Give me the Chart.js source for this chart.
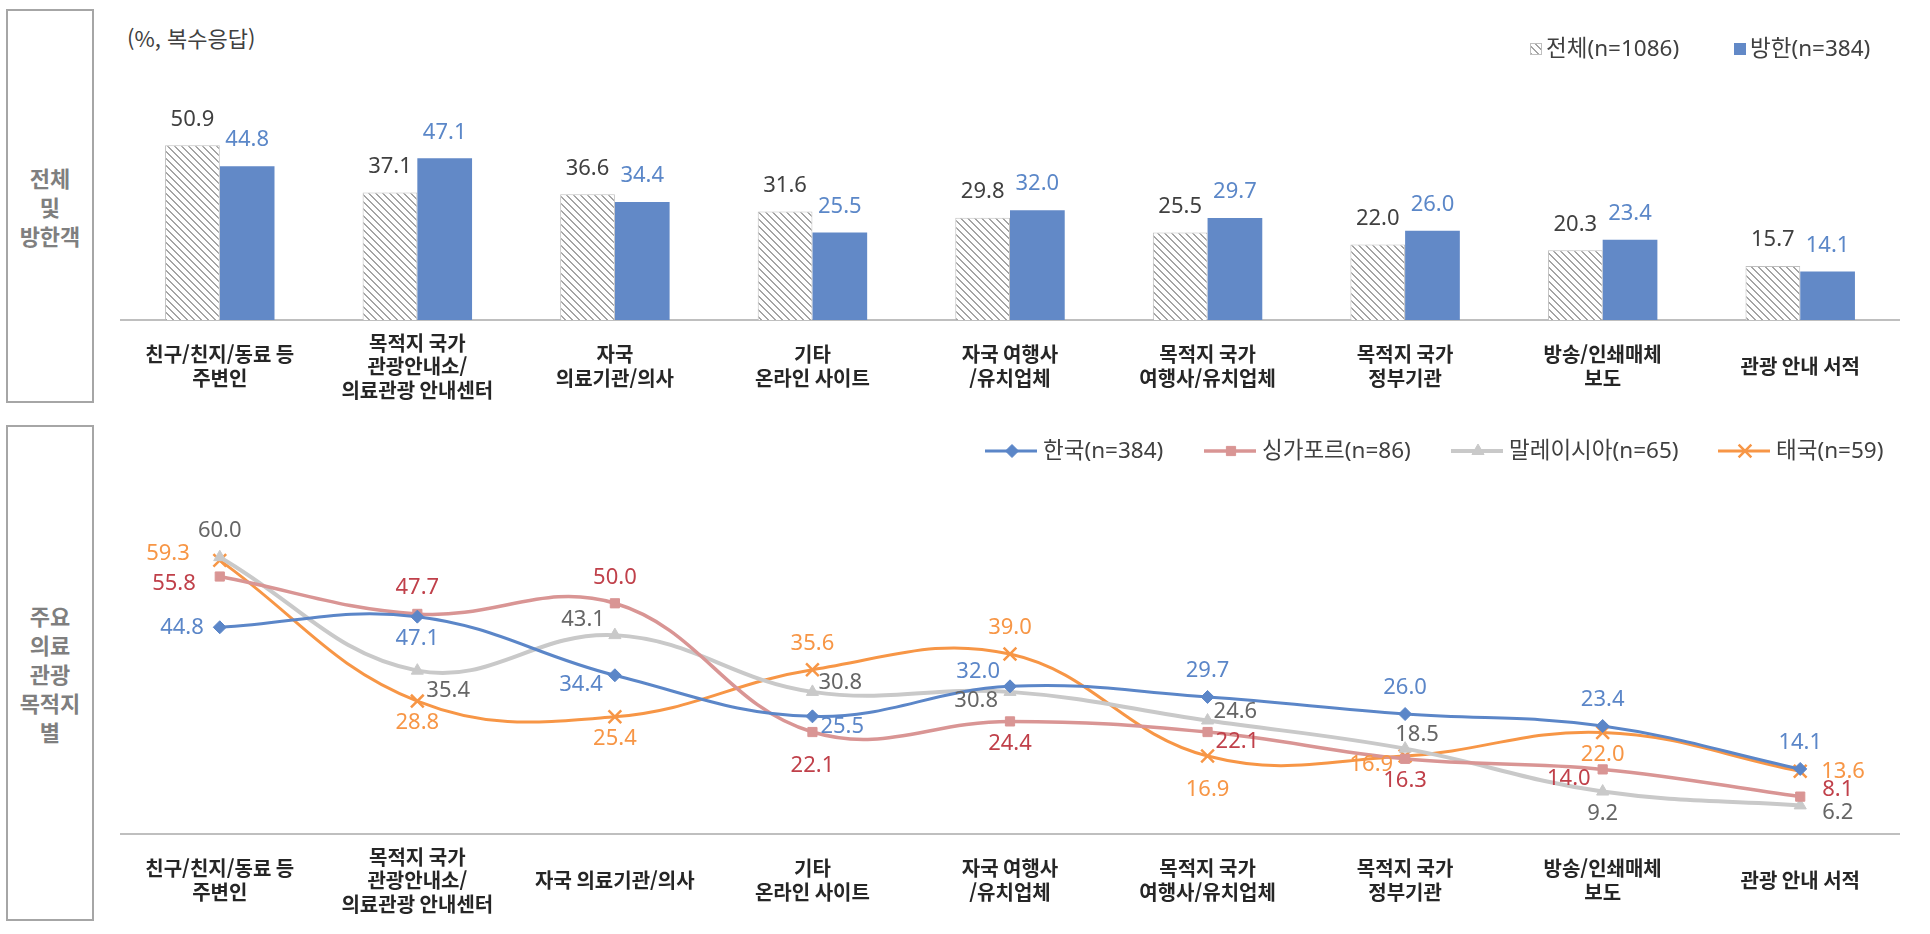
<!DOCTYPE html>
<html lang="ko">
<head>
<meta charset="utf-8">
<title>정보 획득 경로</title>
<script src="https://cdn.jsdelivr.net/npm/chart.js@4.4.1/dist/chart.umd.min.js"></script>
<style>
    html, body { margin: 0; padding: 0; background: #fff; }
    body { width: 1930px; height: 934px; position: relative; overflow: hidden; font-family: 'Noto Sans CJK KR', sans-serif; }
    .side {
        position: absolute; left: 6px; width: 88px; box-sizing: border-box;
        border: 2px solid #a6a6a6; display: flex; align-items: center; justify-content: center;
        text-align: center; color: #7f7f7f; font-weight: 700; font-size: 22px; line-height: 29px;
    }
    #side-top { top: 9px; height: 394px; }
    #side-bottom { top: 425px; height: 496px; }
    .note { position: absolute; left: 127px; top: 23px; font-size: 22px; line-height: 28px; color: #404040; }
    #bar-chart { position: absolute; left: 0; top: 0; }
    #line-chart { position: absolute; left: 0; top: 415px; }
</style>
</head>
<body>
<div class="side" id="side-top"><div>전체<br>및<br>방한객</div></div>
<div class="side" id="side-bottom"><div>주요<br>의료<br>관광<br>목적지<br>별</div></div>
<div class="note">(%, 복수응답)</div>
<canvas id="bar-chart" width="1930" height="415"></canvas>
<canvas id="line-chart" width="1930" height="519"></canvas>
<script>
// categories (bar chart wraps them differently from the line chart)
const barCategories = [
    ['친구/친지/동료 등', '주변인'],
    ['목적지 국가', '관광안내소/', '의료관광 안내센터'],
    ['자국', '의료기관/의사'],
    ['기타', '온라인 사이트'],
    ['자국 여행사', '/유치업체'],
    ['목적지 국가', '여행사/유치업체'],
    ['목적지 국가', '정부기관'],
    ['방송/인쇄매체', '보도'],
    '관광 안내 서적',
];
const lineCategories = [
    ['친구/친지/동료 등', '주변인'],
    ['목적지 국가', '관광안내소/', '의료관광 안내센터'],
    '자국 의료기관/의사',
    ['기타', '온라인 사이트'],
    ['자국 여행사', '/유치업체'],
    ['목적지 국가', '여행사/유치업체'],
    ['목적지 국가', '정부기관'],
    ['방송/인쇄매체', '보도'],
    '관광 안내 서적',
];

// top panel: 전체 vs 방한
const allVisitors = [50.9, 37.1, 36.6, 31.6, 29.8, 25.5, 22.0, 20.3, 15.7];
const koreaVisitors = [44.8, 47.1, 34.4, 25.5, 32.0, 29.7, 26.0, 23.4, 14.1];

// bottom panel: by destination
const korea = [44.8, 47.1, 34.4, 25.5, 32.0, 29.7, 26.0, 23.4, 14.1];
const singapore = [55.8, 47.7, 50.0, 22.1, 24.4, 22.1, 16.3, 14.0, 8.1];
const malaysia = [60.0, 35.4, 43.1, 30.8, 30.8, 24.6, 18.5, 9.2, 6.2];
const thailand = [59.3, 28.8, 25.4, 35.6, 39.0, 16.9, 16.9, 22.0, 13.6];

// where each value label sits relative to its point
const koreaPlaces = ['l', 'b', 'L', 'Rd', 'la', 'a', 'a', 'a', 'a'];
const singaporePlaces = ['lld', 'a', 'a', 'B', 'b', 'Rd', 'b', 'L', 'ru'];
const malaysiaPlaces = ['a', 'Rdd', 'la', 'Ru', 'L', 'Ru', 'ar', 'b', 'rd'];
const thailandPlaces = ['llu', 'b', 'b', 'a', 'a', 'B', 'L', 'b', 'r'];

const placeOffsets = {
    a: [0, -26, 'center'], b: [0, 22, 'center'], B: [0, 34, 'center'],
    ar: [12, -14, 'center'],
    l: [-16, 0, 'right'], lld: [-24, 7, 'right'], llu: [-30, -7, 'right'],
    L: [-12, 9, 'right'], la: [-10, -15, 'right'],
    r: [21, 0, 'left'], ru: [22, -7, 'left'], rd: [22, 7, 'left'],
    Ru: [6, -9, 'left'], Rd: [8, 10, 'left'], Rdd: [9, 20, 'left'],
};

const FONT = '"Noto Sans CJK KR", sans-serif';
const LABEL_FONT = '22px "Noto Sans", "Noto Sans CJK KR", sans-serif';
const LEGEND_FONT = '22.5px "Noto Sans", "Noto Sans CJK KR", sans-serif';

const makeHatch = () => {
    const tile = document.createElement('canvas');
    tile.width = 7;
    tile.height = 7;
    const g = tile.getContext('2d');
    g.fillStyle = '#ffffff';
    g.fillRect(0, 0, 7, 7);
    g.fillStyle = '#a4a4a4';
    for (let i = 0; i < 7; i++) {
        g.fillRect(i, i, 1, 1);
        g.fillRect((i + 1) % 7, i, 1, 1);
    }
    return g.createPattern(tile, 'repeat');
};

const barValueLabels = {
    id: 'barValueLabels',
    afterDatasetsDraw(chart) {
        const { ctx } = chart;
        ctx.save();
        ctx.font = LABEL_FONT;
        ctx.textAlign = 'center';
        ctx.textBaseline = 'middle';
        chart.data.datasets.forEach((ds, i) => {
            ctx.fillStyle = ds.labelColor;
            chart.getDatasetMeta(i).data.forEach((bar, j) => {
                ctx.fillText(ds.data[j].toFixed(1), bar.x, bar.y - 26);
            });
        });
        ctx.restore();
    },
};

const barLegend = {
    id: 'barLegend',
    afterDraw(chart, args, opts) {
        const { ctx } = chart;
        ctx.save();
        ctx.font = LEGEND_FONT;
        ctx.textBaseline = 'middle';
        chart.data.datasets.forEach((ds, i) => {
            const x = opts.starts[i];
            ctx.fillStyle = ds.backgroundColor;
            ctx.fillRect(x, opts.y - 6, 12, 12);
            if (ds.borderWidth) {
                ctx.strokeStyle = ds.borderColor;
                ctx.lineWidth = 1;
                ctx.strokeRect(x + 0.5, opts.y - 5.5, 11, 11);
            }
            ctx.fillStyle = '#404040';
            ctx.fillText(ds.label, x + 16, opts.y + 1);
        });
        ctx.restore();
    },
};

const lineValueLabels = {
    id: 'lineValueLabels',
    afterDatasetsDraw(chart) {
        const { ctx } = chart;
        ctx.save();
        ctx.font = LABEL_FONT;
        ctx.textBaseline = 'middle';
        chart.data.datasets.forEach((ds, i) => {
            ctx.fillStyle = ds.labelColor;
            chart.getDatasetMeta(i).data.forEach((pt, j) => {
                const [dx, dy, align] = placeOffsets[ds.labelPlaces[j]];
                ctx.textAlign = align;
                ctx.fillText(ds.data[j].toFixed(1), pt.x + dx, pt.y + dy);
            });
        });
        ctx.restore();
    },
};

const lineLegend = {
    id: 'lineLegend',
    afterDraw(chart, args, opts) {
        const { ctx } = chart;
        ctx.save();
        ctx.font = LEGEND_FONT;
        ctx.textBaseline = 'middle';
        chart.data.datasets.forEach((ds, i) => {
            const x = opts.starts[i];
            const y = opts.y;
            ctx.strokeStyle = ds.borderColor;
            ctx.lineWidth = ds.borderWidth;
            ctx.beginPath();
            ctx.moveTo(x, y);
            ctx.lineTo(x + 52, y);
            ctx.stroke();
            ctx.fillStyle = ds.pointBackgroundColor;
            ctx.strokeStyle = ds.pointBorderColor;
            ctx.lineWidth = ds.pointBorderWidth;
            Chart.helpers.drawPoint(ctx, {
                pointStyle: ds.pointStyle,
                radius: ds.pointRadius,
                rotation: 0,
                borderWidth: ds.pointBorderWidth,
            }, x + 27, y);
            ctx.fillStyle = '#404040';
            ctx.fillText(ds.label, x + 58, y + 1);
        });
        ctx.restore();
    },
};

const xAxis = (labels, height) => ({
    type: 'category',
    labels,
    offset: true,
    grid: { display: false, drawTicks: false },
    border: { display: true, color: '#bfbfbf', width: 2 },
    ticks: {
        color: '#262626',
        font: { family: FONT, size: 20, weight: 'bold', lineHeight: '23.5px' },
        padding: 23,
        maxRotation: 0,
        minRotation: 0,
        autoSkip: false,
        crossAlign: 'center',
    },
    afterFit: (scale) => { scale.height = height; },
});

const init = () => {
    if (typeof Chart === 'undefined') {
        return;
    }

    new Chart(document.getElementById('bar-chart'), {
        type: 'bar',
        data: {
            labels: barCategories,
            datasets: [
                {
                    label: '전체(n=1086)',
                    data: allVisitors,
                    backgroundColor: makeHatch(),
                    borderColor: '#bfbfbf',
                    borderWidth: 1,
                    labelColor: '#404040',
                },
                {
                    label: '방한(n=384)',
                    data: koreaVisitors,
                    backgroundColor: '#6289c7',
                    borderWidth: 0,
                    labelColor: '#5b87c8',
                },
            ],
        },
        options: {
            responsive: false,
            animation: false,
            events: [],
            layout: { padding: { left: 121, right: 31, top: 114, bottom: 0 } },
            datasets: { bar: { categoryPercentage: 0.554, barPercentage: 1 } },
            plugins: {
                legend: { display: false },
                tooltip: { enabled: false },
                barLegend: { starts: [1530, 1734], y: 49 },
            },
            scales: {
                x: xAxis(barCategories, 95),
                y: { display: false, min: 0, max: 60 },
            },
        },
        plugins: [barValueLabels, barLegend],
    });

    const series = (label, data, color, labelColor, pointStyle, radius, width, places) => ({
        label,
        data,
        borderColor: color,
        borderWidth: width,
        backgroundColor: color,
        pointBackgroundColor: color,
        pointBorderColor: color,
        pointBorderWidth: pointStyle === 'crossRot' ? 2.5 : 1,
        pointStyle,
        pointRadius: radius,
        tension: 0.4,
        fill: false,
        labelColor,
        labelPlaces: places,
    });

    new Chart(document.getElementById('line-chart'), {
        type: 'line',
        data: {
            labels: lineCategories,
            datasets: [
                series('한국(n=384)', korea, '#5b86c8', '#5b86c8', 'rectRot', 6.5, 3, koreaPlaces),
                series('싱가포르(n=86)', singapore, '#d99594', '#c0404a', 'rect', 6.5, 3.5, singaporePlaces),
                series('말레이시아(n=65)', malaysia, '#c9c9c9', '#666666', 'triangle', 7, 4, malaysiaPlaces),
                series('태국(n=59)', thailand, '#f79646', '#f79646', 'crossRot', 9, 3, thailandPlaces),
            ],
        },
        options: {
            responsive: false,
            animation: false,
            events: [],
            layout: { padding: { left: 121, right: 31, top: 96, bottom: 0 } },
            plugins: {
                legend: { display: false },
                tooltip: { enabled: false },
                lineLegend: { starts: [985, 1204, 1451, 1718], y: 36 },
            },
            scales: {
                x: xAxis(lineCategories, 100),
                y: { display: false, min: 0, max: 70 },
            },
        },
        plugins: [lineValueLabels, lineLegend],
    });
};

if (document.readyState === 'loading') {
    document.addEventListener('DOMContentLoaded', init);
} else {
    init();
}
</script>
</body>
</html>
